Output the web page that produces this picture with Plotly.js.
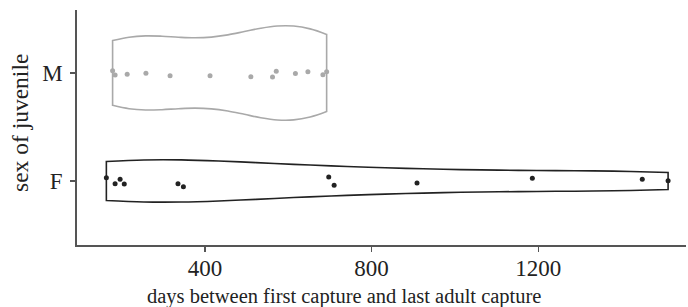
<!DOCTYPE html>
<html>
<head>
<meta charset="utf-8">
<script src="https://cdn.plot.ly/plotly-3.0.1.min.js"></script>
<style>html,body{margin:0;padding:0;background:#fff;}#chart{width:688px;height:307px;}</style>
</head>
<body>
<div id="chart"></div>
<script>
// sex categories and their positions
var sexLabels = ['F', 'M'];
var sexPos = [1, 2];

// days between first capture and last adult capture
var daysF = [163, 184, 196, 206, 335, 348, 697, 710, 909, 1186, 1450, 1512];
var jitterF = [0.03, -0.025, 0.016, -0.028, -0.025, -0.053, 0.037, -0.04, -0.019, 0.025, 0.016, 0.003];

var daysM = [178, 184, 213, 258, 316, 412, 510, 562, 571, 617, 647, 683, 692];
var jitterM = [0.021, -0.019, -0.012, -0.003, -0.025, -0.025, -0.034, -0.037, 0.016, -0.006, 0.012, -0.016, 0.012];

var xTicks = [400, 800, 1200];
var xTitle = 'days between first capture and last adult capture';
var yTitle = 'sex of juvenile';

var colF = '#222222';
var colM = '#a9a9a9';

function offset(base, jit) { return jit.map(function (j) { return base + j; }); }

var traces = [
  {
    type: 'violin', orientation: 'h', x: daysM, y0: sexPos[1],
    width: 0.87, scalemode: 'width', spanmode: 'hard', bandwidth: 122,
    points: false, box: {visible: false}, meanline: {visible: false},
    line: {color: colM, width: 1.6}, fillcolor: 'rgba(255,255,255,0)',
    hoverinfo: 'skip', showlegend: false
  },
  {
    type: 'violin', orientation: 'h', x: daysF, y0: sexPos[0],
    width: 0.39, scalemode: 'width', spanmode: 'hard', bandwidth: 276,
    points: false, box: {visible: false}, meanline: {visible: false},
    line: {color: colF, width: 1.6}, fillcolor: 'rgba(255,255,255,0)',
    hoverinfo: 'skip', showlegend: false
  },
  {
    type: 'scatter', mode: 'markers', x: daysM, y: offset(sexPos[1], jitterM),
    marker: {color: colM, size: 5}, hoverinfo: 'skip', showlegend: false
  },
  {
    type: 'scatter', mode: 'markers', x: daysF, y: offset(sexPos[0], jitterF),
    marker: {color: colF, size: 5}, hoverinfo: 'skip', showlegend: false
  }
];

var layout = {
  width: 688, height: 307,
  margin: {l: 77, r: 2, t: 10, b: 62},
  paper_bgcolor: '#fff', plot_bgcolor: '#fff',
  font: {family: 'Liberation Serif, Times New Roman, serif', color: '#222'},
  xaxis: {
    range: [92.5, 1555], tickvals: xTicks, ticktext: xTicks.map(String),
    showgrid: false, zeroline: false, showline: true, linecolor: '#555', linewidth: 1.8,
    ticks: 'outside', ticklen: 5, tickcolor: '#555', tickwidth: 1.2,
    tickfont: {size: 23, color: '#222'}, ticklabelstandoff: -3
  },
  yaxis: {
    range: [0.407, 2.583], tickvals: sexPos, ticktext: sexLabels,
    showgrid: false, zeroline: false, showline: true, linecolor: '#555', linewidth: 1.8,
    ticks: 'outside', ticklen: 5, tickcolor: '#555', tickwidth: 1.2,
    tickfont: {size: 23, color: '#222'}, ticklabelstandoff: 3
  },
  annotations: [
    {
      text: xTitle, xref: 'paper', yref: 'paper', x: (344 - 77) / 609, y: 0,
      xanchor: 'center', yanchor: 'top', yshift: -38, showarrow: false,
      font: {size: 20.5, color: '#222'}
    },
    {
      text: yTitle, xref: 'paper', yref: 'paper', x: 0, y: (245 - 123) / 235,
      xanchor: 'center', yanchor: 'middle', xshift: -57, textangle: -90, showarrow: false,
      font: {size: 23.5, color: '#222'}
    }
  ]
};

Plotly.newPlot('chart', traces, layout, {displayModeBar: false, staticPlot: true});
</script>
</body>
</html>
